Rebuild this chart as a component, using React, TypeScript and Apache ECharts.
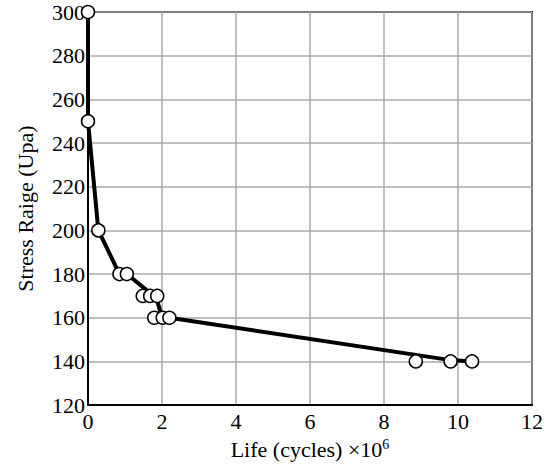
import React, { useEffect, useRef } from "react";
import * as echarts from "echarts";

const lifeValues = [0, 0, 0.28, 0.85, 1.05, 1.48, 1.68, 1.87, 1.79, 2.02, 2.2, 8.86, 9.8, 10.38];
const stressValues = [300, 250, 200, 180, 180, 170, 170, 170, 160, 160, 160, 140, 140, 140];

const trendLife = [0, 0, 0.28, 0.85, 1.05, 1.85, 2.0, 2.2, 9.8, 10.38];
const trendStress = [300, 250, 200, 180, 180, 169, 160, 160, 140.6, 140];

const xTicks = [0, 2, 4, 6, 8, 10, 12];
const yTicks = [120, 140, 160, 180, 200, 220, 240, 260, 280, 300];

const FONT = "'Liberation Serif', 'Times New Roman', serif";

export default function App() {
  const ref = useRef<HTMLDivElement>(null);
  useEffect(() => {
    if (!ref.current) return;
    const chart = echarts.init(ref.current, null, { renderer: "svg" });
    chart.setOption({
      animation: false,
      backgroundColor: "#fff",
      grid: {
        left: 88,
        right: 17,
        top: 12,
        bottom: 58,
        show: true,
        borderColor: "#000",
        borderWidth: 2,
        backgroundColor: "transparent",
      },
      xAxis: {
        type: "value",
        min: xTicks[0],
        max: xTicks[xTicks.length - 1],
        interval: 2,
        name: "Life (cycles) ×10{sup|6}",
        nameLocation: "middle",
        nameGap: 28,
        nameTextStyle: {
          fontFamily: FONT,
          fontSize: 22,
          color: "#000",
          rich: { sup: { fontFamily: FONT, fontSize: 14, verticalAlign: "top", padding: [0, 0, 10, 0], color: "#000" } },
        },
        axisLine: { show: true, lineStyle: { color: "#000", width: 2 } },
        axisTick: { show: false },
        axisLabel: { fontFamily: FONT, fontSize: 22, color: "#000", margin: 5 },
        splitLine: { show: true, lineStyle: { color: "#aaa", width: 1.5 } },
      },
      yAxis: {
        type: "value",
        min: yTicks[0],
        max: yTicks[yTicks.length - 1],
        interval: 20,
        name: "Stress Raige (Upa)",
        nameLocation: "middle",
        nameGap: 52,
        nameTextStyle: { fontFamily: FONT, fontSize: 22, color: "#000" },
        axisLine: { show: true, lineStyle: { color: "#000", width: 2 } },
        axisTick: { show: false },
        axisLabel: { fontFamily: FONT, fontSize: 22, color: "#000", margin: 3 },
        splitLine: { show: true, lineStyle: { color: "#aaa", width: 1.5 } },
      },
      series: [
        {
          type: "line",
          data: trendLife.map((x, i) => [x, trendStress[i]]),
          showSymbol: false,
          lineStyle: { color: "#000", width: 4 },
          z: 2,
        },
        {
          type: "scatter",
          data: lifeValues.map((x, i) => [x, stressValues[i]]),
          symbol: "circle",
          symbolSize: 13,
          itemStyle: { color: "#fff", borderColor: "#000", borderWidth: 1.5, opacity: 1 },
          z: 3,
        },
      ],
    });
    return () => chart.dispose();
  }, []);
  return <div ref={ref} style={{ width: 549, height: 465, position: "absolute", left: 0, top: 0 }} />;
}
